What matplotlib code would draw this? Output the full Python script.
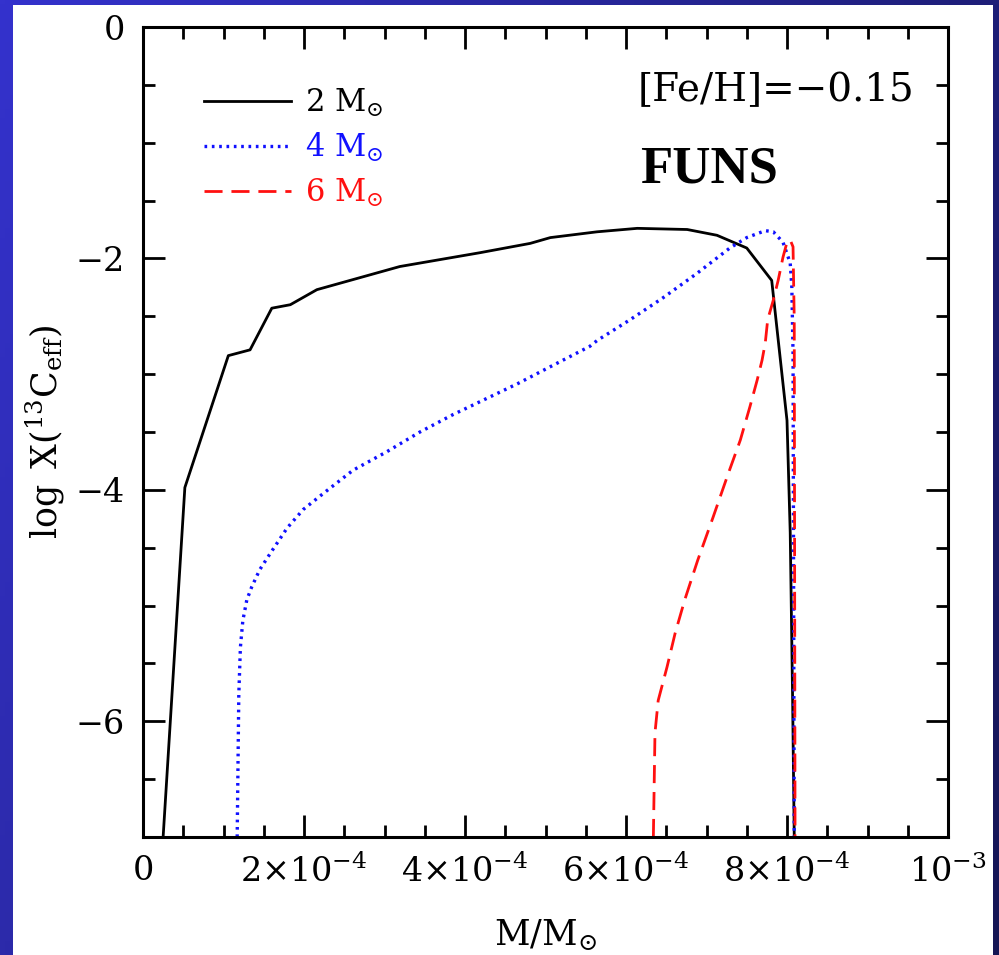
import numpy as np
import matplotlib
matplotlib.use("Agg")
import matplotlib.pyplot as plt
from matplotlib.patches import Rectangle
from matplotlib.ticker import MultipleLocator, FixedLocator, FixedFormatter

plt.rcParams['font.family'] = 'DejaVu Serif'
plt.rcParams['mathtext.fontset'] = 'dejavuserif'

# mass coordinate in units of 1e-4 Msun, log X(13C_eff)
m2_x = [0.25, 0.52, 1.06, 1.33, 1.60, 1.83, 2.16, 3.19, 4.19, 4.81, 5.06, 5.64,
        6.14, 6.76, 7.13, 7.50, 7.81, 8.00, 8.04, 8.07, 8.09]
m2_y = [-7.0, -3.98, -2.84, -2.79, -2.43, -2.40, -2.27, -2.07, -1.95, -1.87, -1.82,
        -1.77, -1.74, -1.75, -1.80, -1.91, -2.19, -3.40, -4.37, -5.82, -7.0]

m4_x = [1.17, 1.19, 1.21, 1.24, 1.29, 1.35, 1.45, 1.58, 1.79, 1.99, 2.26, 2.61,
        3.03, 3.44, 3.85, 4.27, 4.66, 5.02, 5.55, 5.64, 6.05, 6.46, 6.88, 7.29,
        7.50, 7.73, 7.83, 7.95, 8.04, 8.06, 8.075, 8.09]
m4_y = [-7.0, -5.77, -5.36, -5.13, -4.95, -4.84, -4.69, -4.55, -4.33, -4.17, -4.02,
        -3.83, -3.67, -3.50, -3.35, -3.21, -3.08, -2.95, -2.76, -2.71, -2.53, -2.34,
        -2.13, -1.91, -1.82, -1.76, -1.77, -1.86, -2.04, -2.25, -2.82, -7.0]

m6_x = [6.34, 6.36, 6.40, 6.51, 6.61, 6.73, 6.89, 7.08, 7.27, 7.42, 7.54, 7.63,
        7.69, 7.73, 7.76, 7.83, 7.89, 7.95, 8.00, 8.04, 8.075, 8.09, 8.10]
m6_y = [-7.0, -6.10, -5.82, -5.53, -5.24, -4.95, -4.61, -4.24, -3.86, -3.57, -3.28,
        -3.05, -2.88, -2.73, -2.53, -2.36, -2.19, -1.99, -1.86, -1.84, -1.90, -2.53,
        -7.0]

x_ticks = [0, 2e-4, 4e-4, 6e-4, 8e-4, 1e-3]
x_labels = ['0', r'$2{\times}10^{-4}$', r'$4{\times}10^{-4}$', r'$6{\times}10^{-4}$',
            r'$8{\times}10^{-4}$', r'$10^{-3}$']
y_ticks = [0, -2, -4, -6]
y_labels = ['0', '\u22122', '\u22124', '\u22126']

fig = plt.figure(figsize=(9.99, 9.55), dpi=100)

# blue slide background
bg = fig.add_axes([0, 0, 1, 1], zorder=-2)
xx = np.linspace(0, 1, 200)
yy = np.linspace(0, 1, 200)
X, Y = np.meshgrid(xx, yy)
r = 52 - 22 * X - 8 * Y
g = 50 - 20 * X - 8 * Y
b = 205 - 85 * X - 35 * Y
img = np.dstack([r, g, b]) / 255.0
bg.imshow(img, extent=[0, 1, 0, 1], aspect='auto', origin='upper')
bg.axis('off')
fig.add_artist(Rectangle((13 / 999, 0), (993 - 13) / 999, (955 - 5) / 955,
                         transform=fig.transFigure, facecolor='white',
                         edgecolor='none', zorder=-1))

ax = fig.add_axes([143 / 999, 1 - 837 / 955, (948 - 143) / 999, (837 - 27) / 955])
ax.set_facecolor('white')

ax.plot(np.array(m2_x) * 1e-4, m2_y, color='black', lw=2.0, label=r'$2\ \mathrm{M}_{\odot}$')
ax.plot(np.array(m4_x) * 1e-4, m4_y, color='#1010ff', lw=2.4,
        linestyle=(0, (0.8, 1.4)), label=r'$4\ \mathrm{M}_{\odot}$')
ax.plot(np.array(m6_x) * 1e-4, m6_y, color='#ff1010', lw=2.0,
        linestyle=(0, (6.5, 3.2)), label=r'$6\ \mathrm{M}_{\odot}$')

ax.set_xlim(0, 1e-3)
ax.set_ylim(-7, 0)
ax.xaxis.set_major_locator(FixedLocator(x_ticks))
ax.xaxis.set_major_formatter(FixedFormatter(x_labels))
ax.xaxis.set_minor_locator(MultipleLocator(0.5e-4))
ax.yaxis.set_major_locator(FixedLocator(y_ticks))
ax.yaxis.set_major_formatter(FixedFormatter(y_labels))
ax.yaxis.set_minor_locator(MultipleLocator(0.5))

ax.tick_params(which='both', direction='in', top=True, right=True, width=2.0,
               color='black', labelsize=24)
ax.tick_params(which='major', length=16, pad=13)
ax.tick_params(which='minor', length=8.5)
for s in ax.spines.values():
    s.set_linewidth(2.2)

ax.set_xlabel(r'$\mathrm{M/M}_{\odot}$', fontsize=25, labelpad=20)
ax.set_ylabel(r'$\log\ \mathrm{X}(^{13}\mathrm{C}_{\mathrm{eff}})$', fontsize=25, labelpad=6)

leg = ax.legend(loc='upper left', bbox_to_anchor=(0.057, 0.945), frameon=False,
                fontsize=22, handlelength=2.85, handletextpad=0.45, labelspacing=0.4,
                borderpad=0, labelcolor='linecolor')

ax.text(0.615, 0.922, '[Fe/H]=\u22120.15', transform=ax.transAxes, fontsize=28,
        va='center', ha='left')
ax.text(0.617, 0.8235, 'FUNS', transform=ax.transAxes, fontsize=38,
        fontweight='bold', family='Liberation Serif', va='center', ha='left')

fig.savefig('out.png', dpi=100)
